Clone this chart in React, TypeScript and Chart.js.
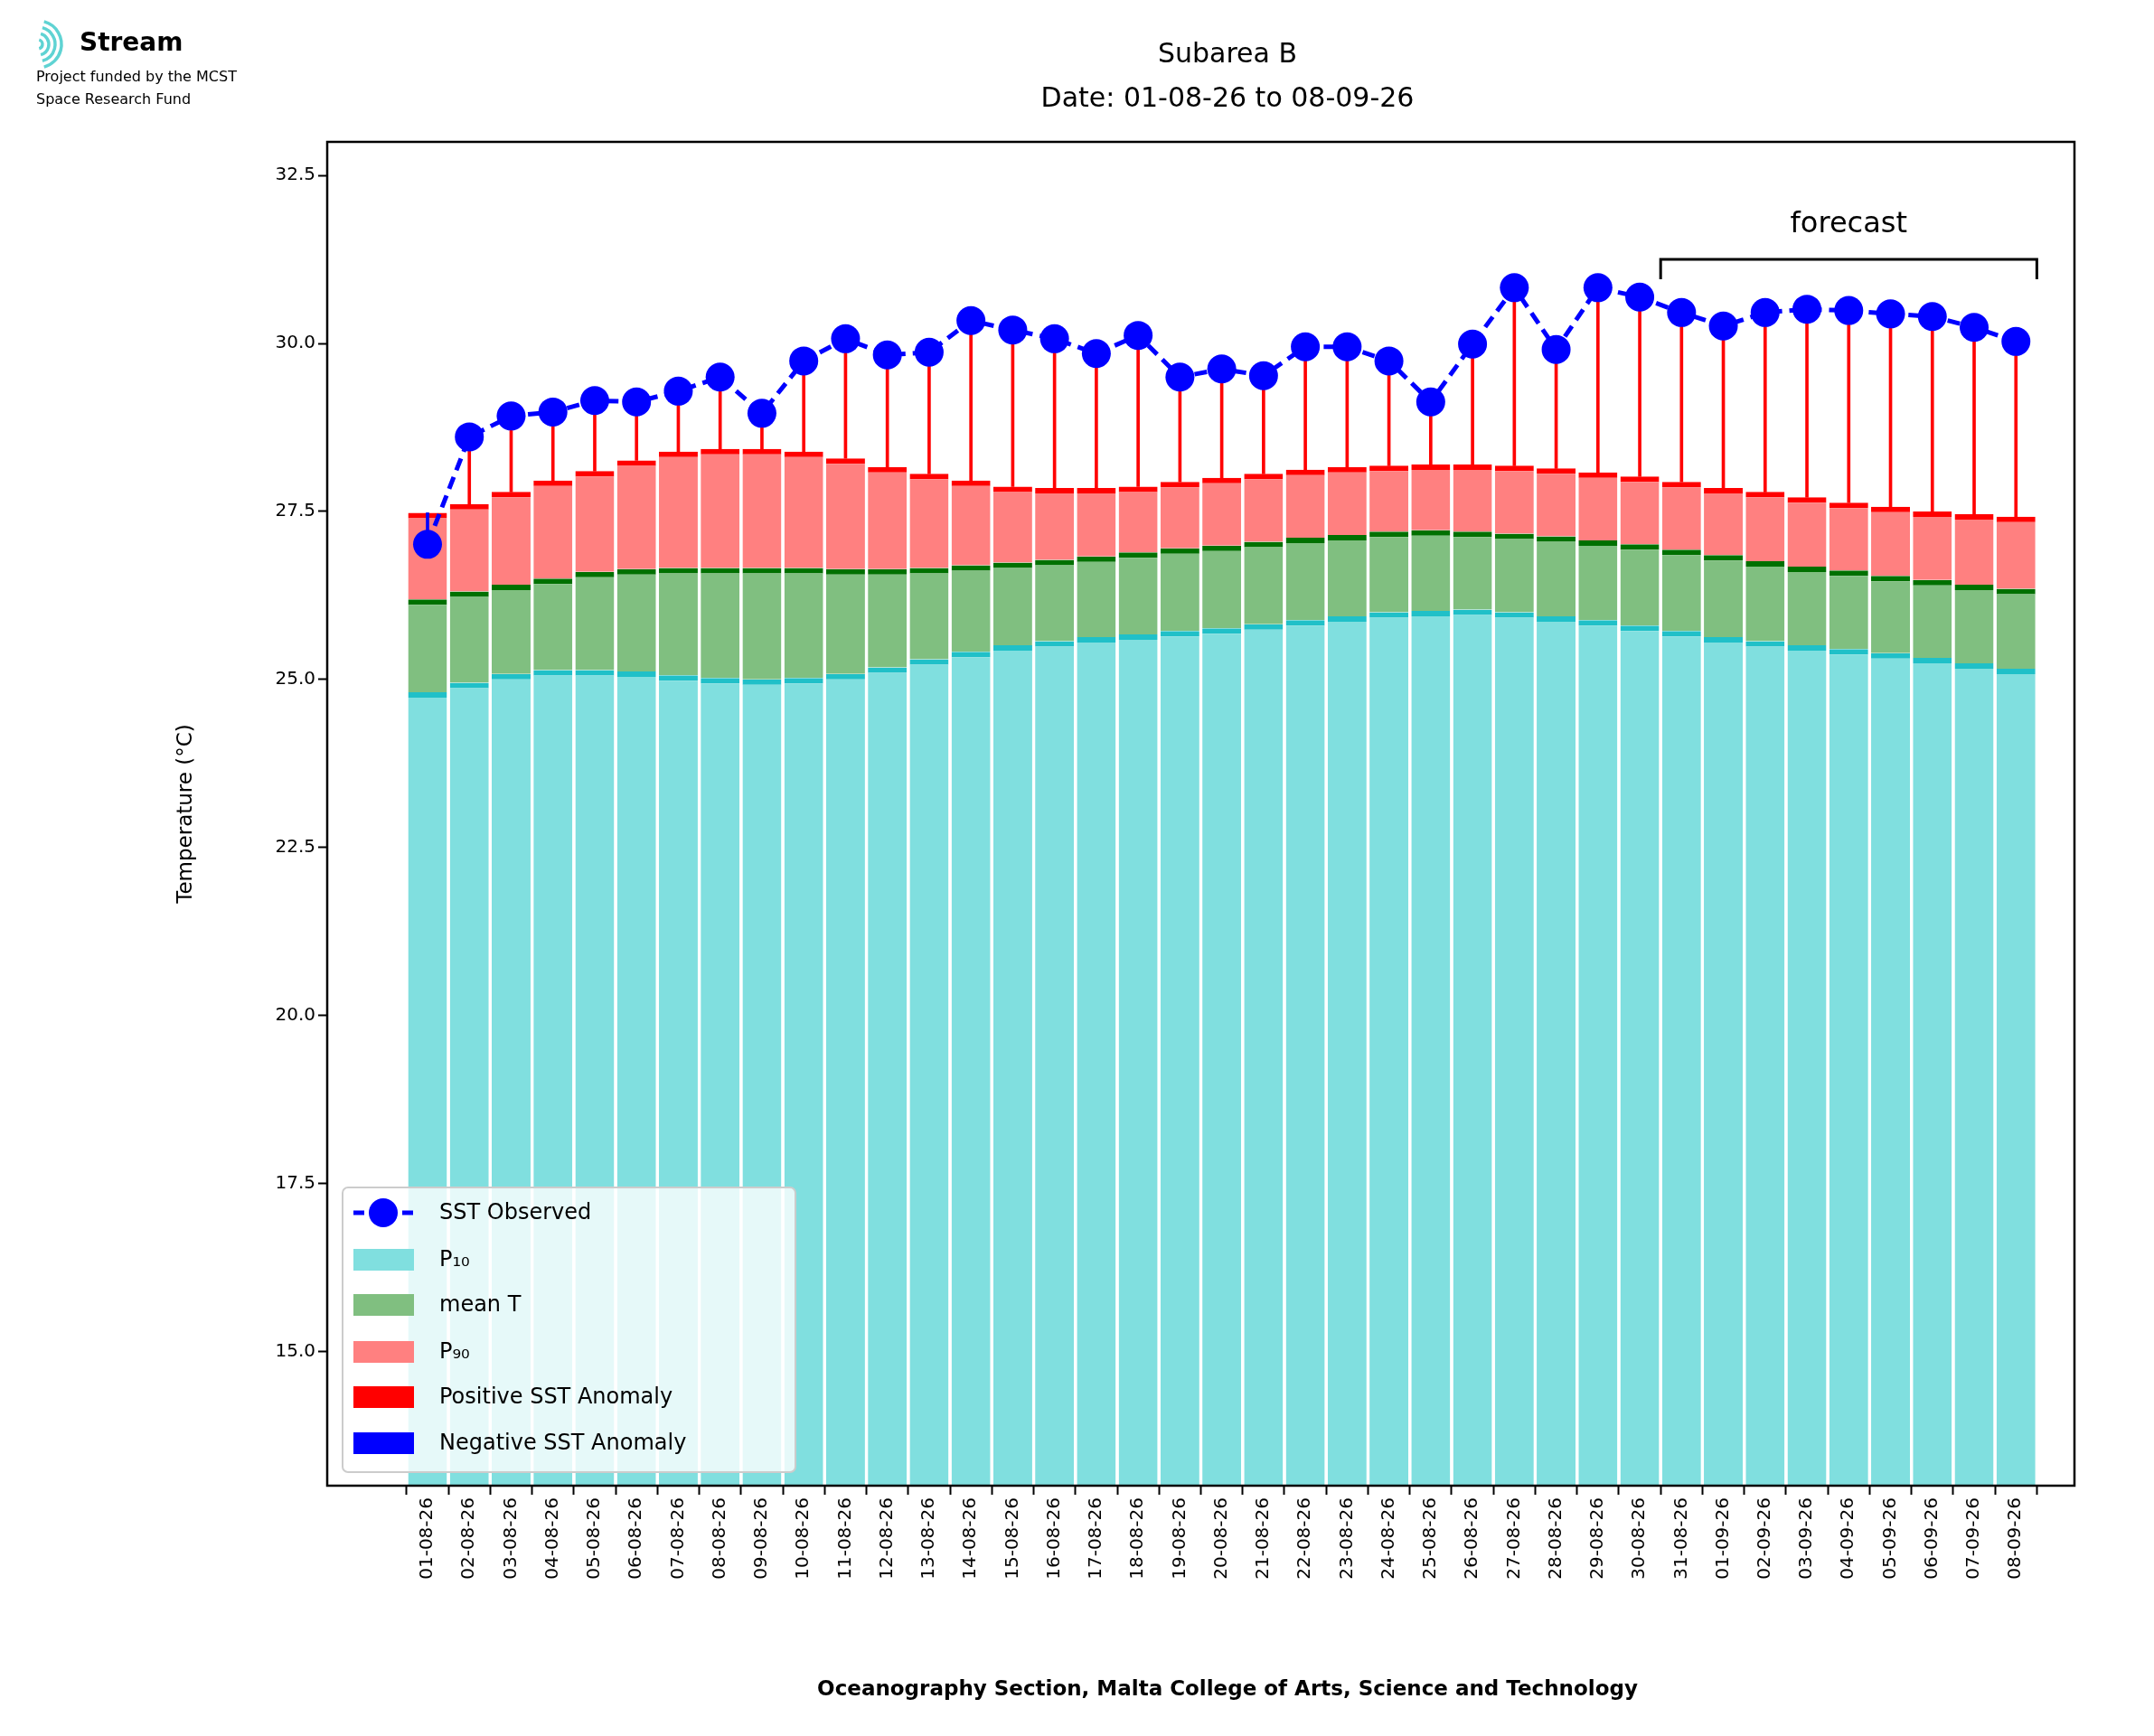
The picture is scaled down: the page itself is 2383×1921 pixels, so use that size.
import React, { useEffect, useRef } from "react";
import { Chart, registerables } from "chart.js";
Chart.register(...registerables);

const dates = ["01-08-26","02-08-26","03-08-26","04-08-26","05-08-26","06-08-26","07-08-26","08-08-26","09-08-26","10-08-26","11-08-26","12-08-26","13-08-26","14-08-26","15-08-26","16-08-26","17-08-26","18-08-26","19-08-26","20-08-26","21-08-26","22-08-26","23-08-26","24-08-26","25-08-26","26-08-26","27-08-26","28-08-26","29-08-26","30-08-26","31-08-26","01-09-26","02-09-26","03-09-26","04-09-26","05-09-26","06-09-26","07-09-26","08-09-26"];
const sst = [27.01,28.61,28.92,28.98,29.15,29.13,29.29,29.50,28.96,29.74,30.07,29.83,29.87,30.34,30.20,30.07,29.85,30.12,29.50,29.62,29.52,29.95,29.95,29.74,29.13,29.99,30.83,29.91,30.83,30.69,30.46,30.26,30.46,30.51,30.49,30.44,30.40,30.24,30.03];
const p90 = [27.48,27.61,27.79,27.96,28.10,28.26,28.39,28.43,28.43,28.39,28.29,28.16,28.06,27.96,27.87,27.85,27.85,27.87,27.94,28.00,28.06,28.12,28.16,28.18,28.20,28.20,28.18,28.14,28.08,28.02,27.94,27.85,27.79,27.71,27.63,27.57,27.50,27.46,27.42];
const meanT = [26.19,26.31,26.41,26.50,26.60,26.64,26.66,26.66,26.66,26.66,26.64,26.64,26.66,26.70,26.74,26.78,26.83,26.89,26.95,26.99,27.05,27.11,27.15,27.20,27.22,27.20,27.17,27.13,27.07,27.01,26.93,26.85,26.76,26.68,26.62,26.54,26.48,26.41,26.35];
const p10 = [24.81,24.95,25.08,25.14,25.14,25.12,25.06,25.02,25.00,25.02,25.08,25.18,25.30,25.41,25.51,25.57,25.63,25.67,25.72,25.76,25.82,25.88,25.94,26.00,26.02,26.04,26.00,25.94,25.88,25.80,25.72,25.63,25.57,25.51,25.45,25.39,25.32,25.24,25.16];
const yTicks = [15, 17.5, 20, 22.5, 25, 27.5, 30, 32.5];
const forecastStart = 30;

const W = 2383, H = 1921;

export default function App() {
  const ref = useRef<HTMLCanvasElement>(null);
  useEffect(() => {
    const ctx = ref.current!.getContext("2d")!;
    const idx = dates.map((_, i) => i);
    const overlay = {
      id: "overlay",
      afterDraw(chart: any) {
        const c = chart.ctx;
        const a = chart.chartArea;
        const xs = chart.scales.x;
        c.save();
        c.strokeStyle = "#000"; c.lineWidth = 2.5;
        c.strokeRect(a.left, a.top, a.right - a.left, a.bottom - a.top);
        c.fillStyle = "#000"; c.textAlign = "center"; c.textBaseline = "middle";
        c.font = "30px 'DejaVu Sans'";
        c.fillText("Subarea B", 1358, 61);
        c.fillText("Date: " + dates[0] + " to " + dates[dates.length - 1], 1358, 110);
        c.font = "bold 23px 'DejaVu Sans'";
        c.fillText("Oceanography Section, Malta College of Arts, Science and Technology", 1358, 1870);
        c.save(); c.translate(206, (a.top + a.bottom) / 2); c.rotate(-Math.PI / 2);
        c.font = "23px 'DejaVu Sans'"; c.fillText("Temperature (°C)", 0, 0); c.restore();
        const x1 = xs.getPixelForValue(forecastStart - 0.5), x2 = xs.getPixelForValue(dates.length - 0.5);
        const by = 287;
        c.lineWidth = 3; c.beginPath();
        c.moveTo(x1, by + 22); c.lineTo(x1, by); c.lineTo(x2, by); c.lineTo(x2, by + 22); c.stroke();
        c.font = "32px 'DejaVu Sans'"; c.fillText("forecast", (x1 + x2) / 2, 249);
        const lx = 379, ly = 1314, lw = 501, lh = 315;
        c.fillStyle = "rgba(255,255,255,0.8)"; c.strokeStyle = "#ccc"; c.lineWidth = 2;
        c.beginPath(); (c as any).roundRect(lx, ly, lw, lh, 6); c.fill(); c.stroke();
        const rows = [1342, 1394, 1444, 1496, 1546, 1597];
        const labels = ["SST Observed", "P₁₀", "mean T", "P₉₀", "Positive SST Anomaly", "Negative SST Anomaly"];
        const cols = ["", "#80dfdf", "#80bf80", "#ff8080", "#ff0000", "#0000ff"];
        c.textAlign = "left"; c.font = "24px 'DejaVu Sans'";
        rows.forEach((y, i) => {
          if (i === 0) {
            c.strokeStyle = "#0000ff"; c.lineWidth = 5; c.setLineDash([12, 6]);
            c.beginPath(); c.moveTo(391, y); c.lineTo(458, y); c.stroke(); c.setLineDash([]);
            c.fillStyle = "#0000ff"; c.beginPath(); c.arc(424, y, 16, 0, Math.PI * 2); c.fill();
          } else {
            c.fillStyle = cols[i]; c.fillRect(391, y - 12, 67, 24);
          }
          c.fillStyle = "#000"; c.fillText(labels[i], 486, y + 1);
        });
        c.strokeStyle = "#5fd3d3"; c.lineWidth = 3.5;
        for (let k = 0; k < 4; k++) {
          c.beginPath(); c.arc(42, 49, 5 + k * 7, -Math.PI / 2.4, Math.PI / 2.4); c.stroke();
        }
        c.fillStyle = "#000"; c.font = "bold 28px 'DejaVu Sans'"; c.fillText("Stream", 88, 49);
        c.font = "16px 'DejaVu Sans'";
        c.fillText("Project funded by the MCST", 40, 86);
        c.fillText("Space Research Fund", 40, 111);
        c.restore();
      },
    };
    const chart = new Chart(ctx, {
      type: "bar",
      data: {
        datasets: [
          {
            type: "line", label: "SST Observed",
            data: idx.map((i) => ({ x: i, y: sst[i] })),
            borderColor: "#0000ff", backgroundColor: "#0000ff", borderWidth: 5, borderDash: [14, 8],
            pointRadius: 16, pointBorderWidth: 0, order: 0,
          } as any,
          {
            label: "anom", data: idx.map((i) => ({ x: i, y: [p90[i], sst[i]] })),
            backgroundColor: idx.map((i) => (sst[i] >= p90[i] ? "#ff0000" : "#0000ff")),
            barThickness: 3, order: 1, grouped: false,
          } as any,
          {
            label: "P90", data: idx.map((i) => ({ x: i, y: [meanT[i], p90[i]] })),
            backgroundColor: "#ff8080", borderColor: "#ff0000",
            borderWidth: { top: 6, bottom: 0, left: 0, right: 0 }, borderSkipped: "start",
            barPercentage: 0.93, categoryPercentage: 1, order: 2, grouped: false,
          } as any,
          {
            label: "mean", data: idx.map((i) => ({ x: i, y: [p10[i], meanT[i]] })),
            backgroundColor: "#80bf80", borderColor: "#007000",
            borderWidth: { top: 6, bottom: 0, left: 0, right: 0 }, borderSkipped: "start",
            barPercentage: 0.93, categoryPercentage: 1, order: 3, grouped: false,
          } as any,
          {
            label: "P10", data: idx.map((i) => ({ x: i, y: [13, p10[i]] })),
            backgroundColor: "#80dfdf", borderColor: "#20c0c8",
            borderWidth: { top: 6, bottom: 0, left: 0, right: 0 }, borderSkipped: "start",
            barPercentage: 0.93, categoryPercentage: 1, order: 4, grouped: false,
          } as any,
        ],
      },
      options: {
        responsive: false, animation: false, devicePixelRatio: 1,
        layout: { padding: { top: 157, right: 88, left: 0, bottom: 0 } },
        plugins: { legend: { display: false }, tooltip: { enabled: false }, title: { display: false } },
        scales: {
          x: {
            type: "linear", min: -2.4, max: 39.4, offset: false,
            afterBuildTicks: (s: any) => { s.ticks = idx.map((i) => ({ value: i })); },
            afterFit: (s: any) => { s.height = 277; },
            ticks: {
              autoSkip: false, maxRotation: 90, minRotation: 90, color: "#000",
              font: { size: 20, family: "'DejaVu Sans'" },
              callback: (v: any) => dates[v] ?? "",
            },
            grid: { drawOnChartArea: false, drawTicks: true, tickLength: 10, color: "#000", tickWidth: 2 },
            border: { display: false },
          },
          y: {
            min: 13, max: 33,
            afterBuildTicks: (s: any) => { s.ticks = yTicks.map((v) => ({ value: v })); },
            afterFit: (s: any) => { s.width = 362; },
            ticks: { color: "#000", font: { size: 20, family: "'DejaVu Sans'" }, callback: (v: any) => Number(v).toFixed(1) },
            grid: { drawOnChartArea: false, drawTicks: true, tickLength: 10, color: "#000", tickWidth: 2 },
            border: { display: false },
          },
        },
      } as any,
      plugins: [overlay],
    });
    return () => chart.destroy();
  }, []);
  return (
    <div style={{ position: "fixed", left: 0, top: 0, width: W, height: H, background: "#fff" }}>
      <canvas ref={ref} width={W} height={H} style={{ width: W, height: H }} />
    </div>
  );
}
